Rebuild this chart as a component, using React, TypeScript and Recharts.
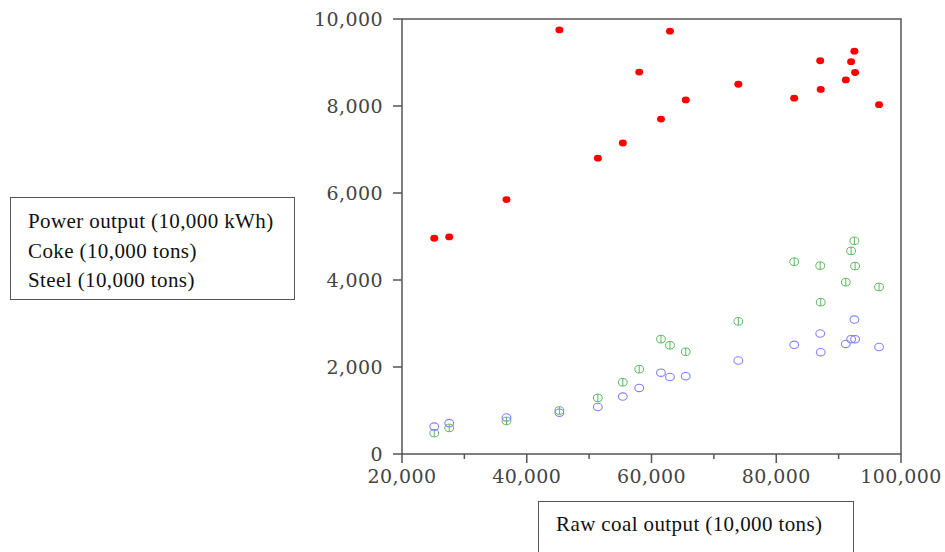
import { ScatterChart, Scatter, XAxis, YAxis, ReferenceArea } from 'recharts';

// raw coal output (10,000 tons), one entry per year
const coalOutput = [
  25170, 27570, 36750, 45230, 51400, 55400, 58030, 61520, 62960, 65490,
  73920, 82880, 87050, 87130, 91150, 92000, 92530, 92640, 96480,
];
const powerOutput = [
  4960, 4990, 5850, 9750, 6800, 7150, 8780, 7700, 9720, 8140,
  8500, 8180, 9040, 8380, 8600, 9020, 9260, 8770, 8030,
];
const cokeOutput = [
  480, 600, 760, 1000, 1290, 1650, 1950, 2640, 2500, 2350,
  3050, 4420, 4330, 3490, 3950, 4670, 4900, 4320, 3840,
];
const steelOutput = [
  630, 710, 840, 950, 1080, 1320, 1520, 1870, 1770, 1790,
  2150, 2510, 2770, 2340, 2530, 2640, 3090, 2640, 2460,
];

const xTicks = [20000, 30000, 40000, 50000, 60000, 70000, 80000, 90000, 100000];
const yTicks = [0, 2000, 4000, 6000, 8000, 10000];
const legendLabels = ['Power output (10,000 kWh)', 'Coke (10,000 tons)', 'Steel (10,000 tons)'];
const xTitle = 'Raw coal output (10,000 tons)';

const toRows = (vals: number[]) => coalOutput.map((x, i) => ({ x, y: vals[i] }));

const fmt = (v: number) => v.toLocaleString('en-US');

const AXIS = '#555';
const TICK_FONT = { fontFamily: '"DejaVu Serif", serif', fontSize: 19, fill: '#444', letterSpacing: 0.4 };
const BOX_FONT = { fontFamily: '"Liberation Serif", serif', fontSize: 21, letterSpacing: 0.4, color: '#111' };

const RedDot = (p: any) => <ellipse cx={p.cx} cy={p.cy} rx={4} ry={3.4} fill="#ff0000" />;
const GreenRing = (p: any) => (
  <g stroke="#5cb85c" strokeWidth={1} fill="none">
    <ellipse cx={p.cx} cy={p.cy} rx={4.4} ry={3.8} />
    <line x1={p.cx} y1={p.cy - 3.8} x2={p.cx} y2={p.cy + 3.8} />
  </g>
);
const BlueRing = (p: any) => (
  <ellipse cx={p.cx} cy={p.cy} rx={4.4} ry={3.7} stroke="#8080ff" strokeWidth={1.1} fill="none" />
);

const XTick = (p: any) => {
  const v = p.payload.value;
  const major = v % 20000 === 0;
  return (
    <g>
      <line x1={p.x} y1={p.y} x2={p.x} y2={p.y + (major ? 9 : 5)} stroke={AXIS} strokeWidth={1.5} />
      {major && (
        <text x={p.x} y={p.y + 16} dy="0.71em" textAnchor="middle" {...TICK_FONT}>
          {fmt(v)}
        </text>
      )}
    </g>
  );
};

export default function App() {
  return (
    <div style={{ position: 'absolute', left: 0, top: 0, width: 945, height: 552, background: '#fff' }}>
      <ScatterChart width={945} height={552} margin={{ top: 19, right: 44, bottom: 58, left: 322 }}>
        <XAxis
          type="number"
          dataKey="x"
          domain={[20000, 100000]}
          ticks={xTicks}
          interval={0}
          height={40}
          axisLine={false}
          tickLine={false}
          tickSize={0}
          tickMargin={0}
          tick={<XTick />}
        />
        <YAxis
          type="number"
          dataKey="y"
          domain={[0, 10000]}
          ticks={yTicks}
          interval={0}
          width={80}
          axisLine={false}
          tickLine={{ stroke: AXIS, strokeWidth: 1.5 }}
          tickSize={9}
          tickMargin={10}
          tick={TICK_FONT}
          tickFormatter={fmt}
        />
        <ReferenceArea x1={20000} x2={100000} y1={0} y2={10000} fill="none" stroke={AXIS} strokeWidth={1.5} />
        <Scatter name={legendLabels[0]} data={toRows(powerOutput)} shape={RedDot} isAnimationActive={false} />
        <Scatter name={legendLabels[1]} data={toRows(cokeOutput)} shape={GreenRing} isAnimationActive={false} />
        <Scatter name={legendLabels[2]} data={toRows(steelOutput)} shape={BlueRing} isAnimationActive={false} />
      </ScatterChart>

      <div
        style={{
          position: 'absolute',
          left: 10,
          top: 197,
          width: 283,
          height: 101,
          border: `1px solid ${AXIS}`,
          ...BOX_FONT,
        }}
      >
        <div style={{ paddingTop: 9, paddingLeft: 17, lineHeight: '29.5px' }}>
          {legendLabels.map((l) => (
            <div key={l}>{l}</div>
          ))}
        </div>
      </div>

      <div
        style={{
          position: 'absolute',
          left: 538,
          top: 501,
          width: 316,
          height: 70,
          border: `1px solid ${AXIS}`,
          ...BOX_FONT,
          lineHeight: '24px',
          paddingLeft: 17,
          paddingTop: 10,
          boxSizing: 'border-box',
        }}
      >
        {xTitle}
      </div>
    </div>
  );
}
